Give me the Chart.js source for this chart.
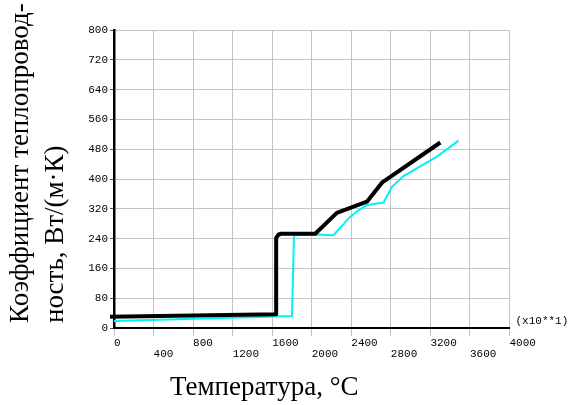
<!DOCTYPE html>
<html>
<head>
<meta charset="utf-8">
<script src="https://cdn.jsdelivr.net/npm/chart.js@4/dist/chart.umd.min.js"></script>
<style>
  html, body { margin: 0; padding: 0; background: #fff; }
  #wrap { width: 573px; height: 405px; position: relative; }
</style>
</head>
<body>
<div id="wrap"><canvas id="chart"></canvas></div>
<script>
// two curves (temperature in axis units, conductivity)
const tempBlack = [-120, -40, 1640, 1640, 1665, 1690, 2035, 2254, 2558, 2710, 3300]
const condBlack = [25, 30, 37, 242, 251, 253, 253, 309, 339, 390, 498]
const tempCyan = [0, 1000, 1800, 1820, 1830, 2050, 2220, 2389, 2473, 2558, 2726, 2811, 2928, 3266, 3485]
const condCyan = [19, 26, 32, 245, 250, 251, 249, 299, 316, 330, 337, 379, 408, 460, 503]

const xTicks = [0, 400, 800, 1200, 1600, 2000, 2400, 2800, 3200, 3600, 4000]
const yTicks = [0, 80, 160, 240, 320, 400, 480, 560, 640, 720, 800]

const xTitle = 'Температура, °C'
const yTitle = ['Коэффициент теплопровод-', 'ность, Вт/(м·К)']
const xNote = '(x10**1)'

const toPoints = (xs, ys) => xs.map((x, i) => ({ x: x, y: ys[i] }))

const monoFont = { family: '"Liberation Mono", "DejaVu Sans Mono", monospace', size: 11 }

const titles = {
    id: 'titles',
    afterDraw(chart) {
        const { ctx, chartArea: a } = chart
        ctx.save()
        ctx.fillStyle = '#000'
        ctx.textAlign = 'left'
        ctx.textBaseline = 'alphabetic'

        ctx.font = '11px "Liberation Mono", monospace'
        ctx.fillText(xNote, a.right + 6, a.bottom - 4)

        ctx.font = '27px "Liberation Serif", serif'
        ctx.fillText(xTitle, a.left + 56, a.bottom + 67)

        ctx.translate(a.left - 86, a.bottom - 5)
        ctx.rotate(-Math.PI / 2)
        yTitle.forEach((line, i) => ctx.fillText(line, 0, i * 35))
        ctx.restore()
    }
}

const ctx = document.getElementById('chart').getContext('2d')

const chart = new Chart(ctx, {
    type: 'line',
    data: {
        datasets: [{
            data: toPoints(tempBlack, condBlack),
            borderColor: '#000',
            borderWidth: 4,
            borderJoinStyle: 'round',
            pointRadius: 0,
            tension: 0,
            clip: false
        }, {
            data: toPoints(tempCyan, condCyan),
            borderColor: '#00f2f2',
            borderWidth: 2,
            pointRadius: 0,
            tension: 0,
            clip: false
        }]
    },
    options: {
        responsive: true,
        maintainAspectRatio: false,
        animation: false,
        events: [],
        layout: { padding: { left: 0, top: 30, right: 63.5, bottom: 0 } },
        plugins: { legend: { display: false }, tooltip: { enabled: false } },
        scales: {
            x: {
                type: 'linear',
                min: 0,
                max: 4000,
                afterBuildTicks: s => { s.ticks = xTicks.map(v => ({ value: v })) },
                afterFit: s => { s.height = 77 },
                grid: { color: '#c4c4c4', lineWidth: 1, tickLength: 8, tickColor: '#c4c4c4' },
                border: { color: '#000', width: 2 },
                ticks: {
                    autoSkip: false,
                    maxRotation: 0,
                    align: 'start',
                    padding: 1,
                    color: '#000',
                    font: Object.assign({ lineHeight: 1.05 }, monoFont),
                    callback: (v, i) => i % 2 ? ['', String(v)] : String(v)
                }
            },
            y: {
                min: 0,
                max: 800,
                afterBuildTicks: s => { s.ticks = yTicks.map(v => ({ value: v })) },
                afterFit: s => { s.width = 114 },
                grid: { color: '#c4c4c4', lineWidth: 1, tickLength: 4, tickColor: '#555' },
                border: { color: '#000', width: 2.5 },
                ticks: {
                    padding: 2,
                    color: '#000',
                    font: monoFont
                }
            }
        }
    },
    plugins: [titles]
})
</script>
</body>
</html>
